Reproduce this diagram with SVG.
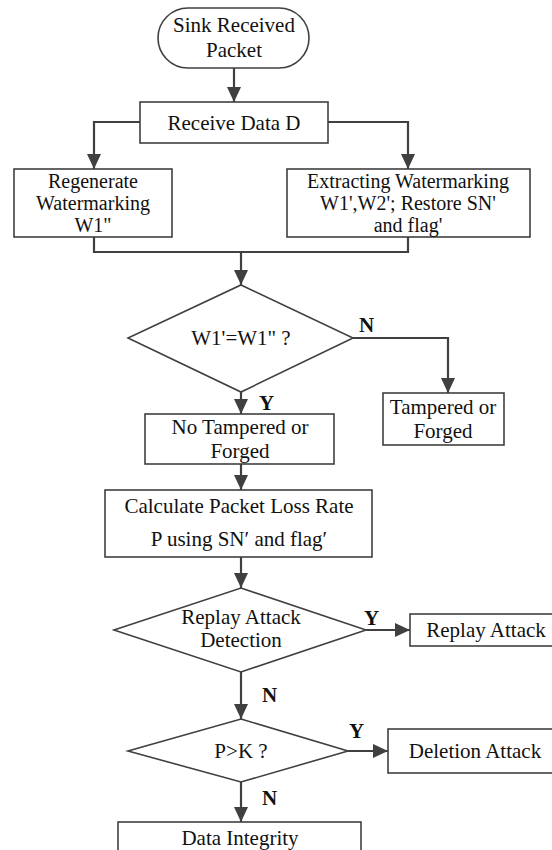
<svg xmlns="http://www.w3.org/2000/svg" width="552" height="850" viewBox="0 0 552 850">
<defs>
<style>
.box{fill:#fff;stroke:#404040;stroke-width:1.6}
.conn{fill:none;stroke:#404040;stroke-width:2.2}
.t{font-family:"Liberation Serif","Times New Roman",serif;font-size:21px;fill:#111;text-anchor:middle}
.s{font-size:20px}
.lab{font-family:"Liberation Serif","Times New Roman",serif;font-size:21px;font-weight:bold;fill:#111}
</style>
<marker id="arr" viewBox="0 0 15 14" refX="15" refY="7" markerWidth="15" markerHeight="14" orient="auto" markerUnits="userSpaceOnUse">
<path d="M0,0 L15,7 L0,14 z" fill="#404040"/>
</marker>
</defs>
<rect width="552" height="850" fill="#fff"/>
<g id="connectors">
<line class="conn" x1="234" y1="68" x2="234" y2="102" marker-end="url(#arr)"/>
<polyline class="conn" points="140,122 94,122 94,169" marker-end="url(#arr)"/>
<polyline class="conn" points="328,122 408,122 408,169" marker-end="url(#arr)"/>
<polyline class="conn" points="94,237 94,252 408,252 408,237"/>
<line class="conn" x1="241" y1="252" x2="241" y2="285" marker-end="url(#arr)"/>
<polyline class="conn" points="353,338 448,338 448,393" marker-end="url(#arr)"/>
<line class="conn" x1="241" y1="392" x2="241" y2="414" marker-end="url(#arr)"/>
<line class="conn" x1="241" y1="464" x2="241" y2="490" marker-end="url(#arr)"/>
<line class="conn" x1="241" y1="557" x2="241" y2="588" marker-end="url(#arr)"/>
<line class="conn" x1="366" y1="630" x2="410" y2="630" marker-end="url(#arr)"/>
<line class="conn" x1="241" y1="672" x2="241" y2="719" marker-end="url(#arr)"/>
<line class="conn" x1="348" y1="751" x2="388" y2="751" marker-end="url(#arr)"/>
<line class="conn" x1="241" y1="782" x2="241" y2="822" marker-end="url(#arr)"/>
<text class="lab" x="359" y="332">N</text>
<text class="lab" x="259" y="410">Y</text>
<text class="lab" x="364" y="625">Y</text>
<text class="lab" x="262" y="702">N</text>
<text class="lab" x="349" y="738">Y</text>
<text class="lab" x="262" y="805">N</text>
</g>
<g id="start">
<rect class="box" x="158" y="8" width="151" height="60" rx="30"/>
<text class="t" x="234" y="32">Sink Received</text>
<text class="t" x="234" y="57">Packet</text>
</g>
<g id="receive">
<rect class="box" x="140" y="102" width="188" height="41"/>
<text class="t" x="234" y="130">Receive Data D</text>
</g>
<g id="regenerate">
<rect class="box" x="14" y="169" width="158" height="68"/>
<text class="t s" x="93" y="188">Regenerate</text>
<text class="t s" x="93" y="210">Watermarking</text>
<text class="t s" x="93" y="232">W1"</text>
</g>
<g id="extract">
<rect class="box" x="287" y="169" width="243" height="68"/>
<text class="t s" x="408" y="188">Extracting Watermarking</text>
<text class="t s" x="408" y="210">W1',W2'; Restore SN'</text>
<text class="t s" x="408" y="232">and flag'</text>
</g>
<g id="check-w1">
<polygon class="box" points="241,285 353,338 241,392 128,338"/>
<text class="t" x="241" y="345">W1'=W1" ?</text>
</g>
<g id="tampered">
<rect class="box" x="383" y="393" width="121" height="52"/>
<text class="t" x="443" y="414">Tampered or</text>
<text class="t" x="443" y="438">Forged</text>
</g>
<g id="not-tampered">
<rect class="box" x="145" y="414" width="189" height="50"/>
<text class="t" x="240" y="434">No Tampered or</text>
<text class="t" x="240" y="458">Forged</text>
</g>
<g id="calculate">
<rect class="box" x="105" y="490" width="267" height="67"/>
<text class="t" x="239" y="513">Calculate Packet Loss Rate</text>
<text class="t" x="239" y="546">P using SN′ and flag′</text>
</g>
<g id="replay-check">
<polygon class="box" points="241,588 366,630 241,672 114,630"/>
<text class="t" x="241" y="624">Replay Attack</text>
<text class="t" x="241" y="647">Detection</text>
</g>
<g id="replay">
<rect class="box" x="410" y="614" width="150" height="32"/>
<text class="t" x="486" y="637">Replay Attack</text>
</g>
<g id="pk-check">
<polygon class="box" points="241,719 348,751 241,782 128,751"/>
<text class="t" x="241" y="758">P&gt;K ?</text>
</g>
<g id="deletion">
<rect class="box" x="388" y="729" width="172" height="44"/>
<text class="t" x="475" y="758">Deletion Attack</text>
</g>
<g id="integrity">
<rect class="box" x="118" y="822" width="243" height="50"/>
<text class="t" x="240" y="845">Data Integrity</text>
</g>
</svg>
